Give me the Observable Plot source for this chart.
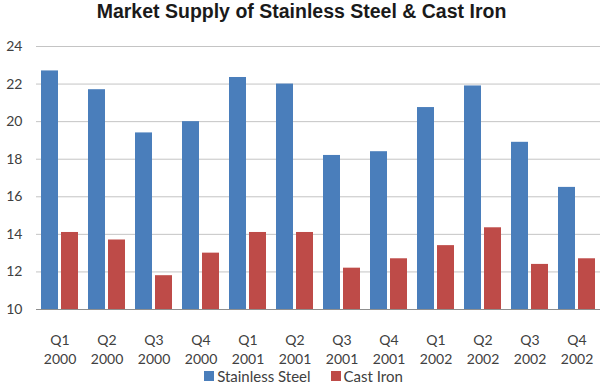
<!DOCTYPE html>
<html><head><meta charset="utf-8">
<script src="https://cdn.jsdelivr.net/npm/d3@7"></script>
<script src="https://cdn.jsdelivr.net/npm/@observablehq/plot@0.6"></script>
<style>
html,body{margin:0;padding:0;background:#fff;}
body{width:603px;height:387px;overflow:hidden;position:relative;font-family:Lato,"Liberation Sans",sans-serif;}
#title{height:34px;line-height:28px;text-align:center;font:bold 19.5px "Liberation Sans",Arial,sans-serif;color:#1a1a1a;}
#chart svg{display:block;}
#legend{position:absolute;left:4px;right:0;top:367px;height:18px;display:flex;justify-content:center;align-items:center;font-size:15px;line-height:18px;color:#404040;}
.item{display:flex;align-items:center;margin:0 10px;}
.sw{width:10px;height:10px;margin-right:3px;}
</style></head><body>
<div id="title">Market Supply of Stainless Steel &amp; Cast Iron</div>
<div id="chart"></div>
<div id="legend"></div>
<script>
const quarters = ["Q1","Q2","Q3","Q4","Q1","Q2","Q3","Q4","Q1","Q2","Q3","Q4"];
const years = ["2000","2000","2000","2000","2001","2001","2001","2001","2002","2002","2002","2002"];
const series = ["Stainless Steel","Cast Iron"];
const stainless = [22.7,21.7,19.4,20.0,22.35,22.0,18.2,18.4,20.75,21.9,18.9,16.5];
const castIron = [14.1,13.7,11.8,13.0,14.1,14.1,12.2,12.7,13.4,14.35,12.4,12.7];
const yTicks = [10,12,14,16,18,20,22,24];
const colors = ["#4A7EBB","#BE4B48"];

const labels = quarters.map((q,i)=>q+"\n"+years[i]);
const data = labels.flatMap((l,i)=>[
  {period:l, series:series[0], value:stainless[i]},
  {period:l, series:series[1], value:castIron[i]}
]);

const chart = Plot.plot({
  width:603, height:353,
  marginLeft:36, marginRight:3, marginTop:12, marginBottom:78,
  style:{fontFamily:"Lato, 'Liberation Sans', sans-serif", fontSize:"14px", color:"#404040", background:"#fff"},
  fx:{domain:labels, padding:0, label:null},
  x:{domain:series, paddingInner:0.15, paddingOuter:0.25, axis:null},
  y:{domain:[10,24], label:null},
  color:{domain:series, range:colors},
  marks:[
    Plot.gridY(yTicks, {stroke:"#c4c4c4", strokeOpacity:1}),
    Plot.barY(data, {fx:"period", x:"series", y1:10, y2:"value", fill:"series"}),
    Plot.ruleY([10], {stroke:"#8f8f8f", strokeWidth:1.2}),
    Plot.axisY(yTicks, {tickSize:0, tickPadding:14, fontSize:14, label:null, fill:"#404040"}),
    Plot.axisFx({anchor:"bottom", tickSize:0, tickPadding:22, lineHeight:1.36, fontSize:14, label:null, fill:"#404040"})
  ]
});
document.getElementById("chart").appendChild(chart);

const legend = document.getElementById("legend");
series.forEach((s,i)=>{
  const it = document.createElement("div"); it.className="item";
  const sw = document.createElement("div"); sw.className="sw"; sw.style.background=colors[i];
  const t = document.createElement("span"); t.textContent=s;
  it.appendChild(sw); it.appendChild(t); legend.appendChild(it);
});
</script>
</body></html>
